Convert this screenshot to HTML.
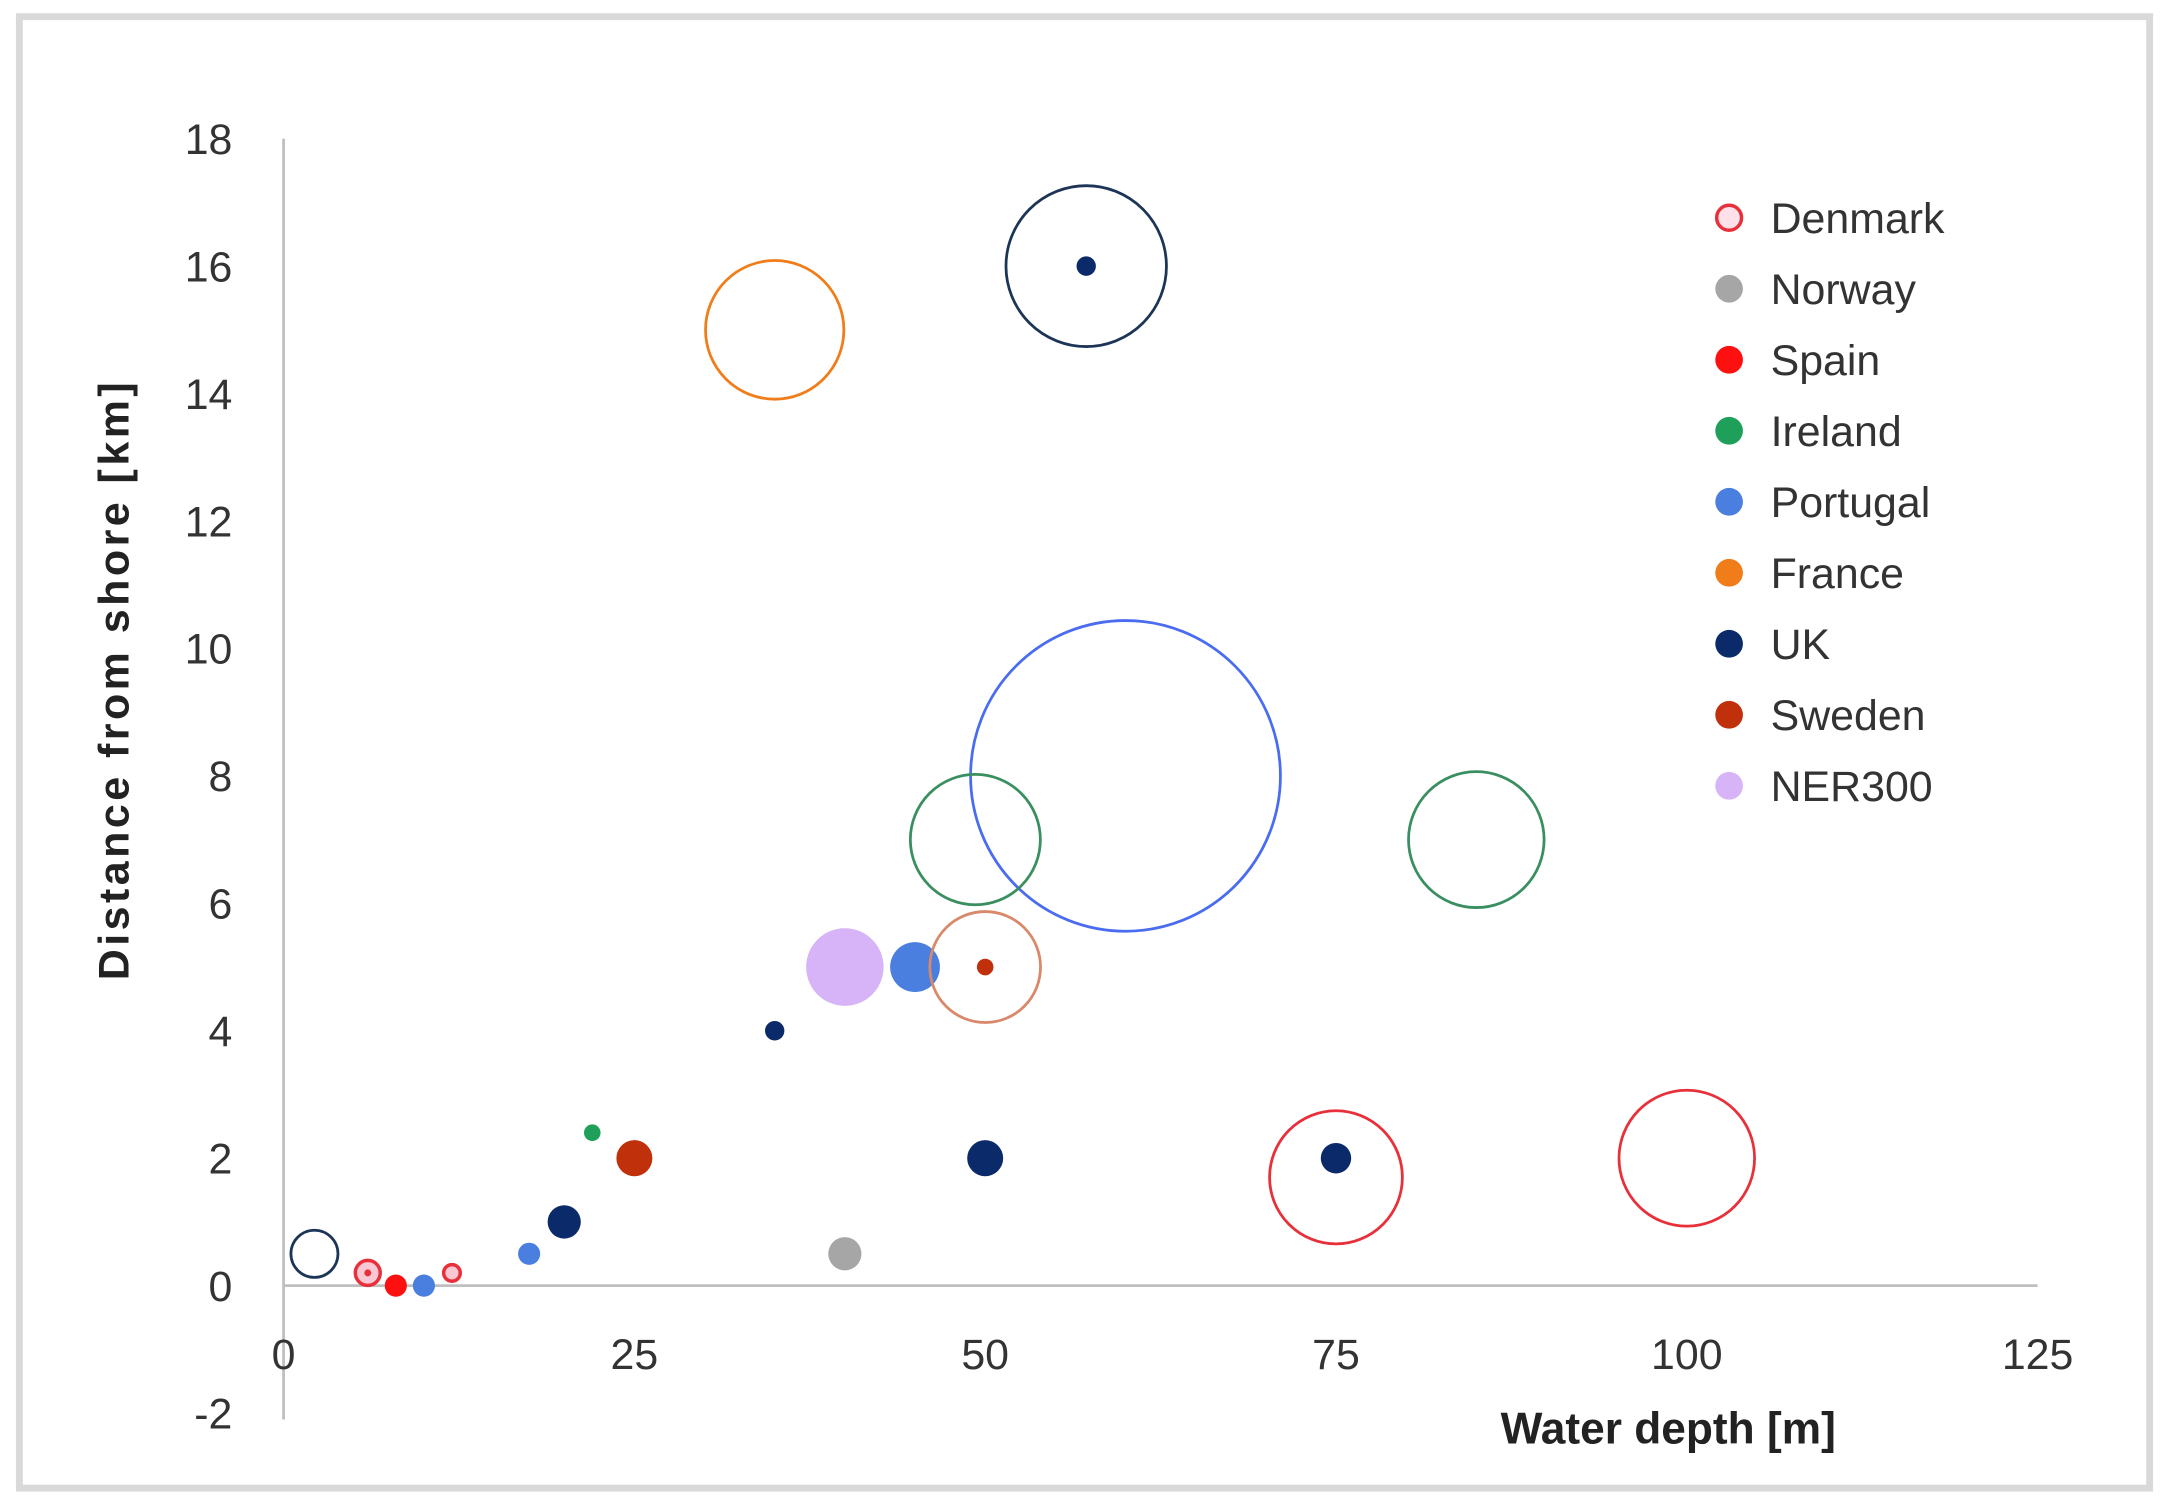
<!DOCTYPE html>
<html><head><meta charset="utf-8"><style>
html,body{margin:0;padding:0;background:#fff;}
svg{display:block;}
text{font-family:"Liberation Sans",sans-serif;}
</style></head><body>
<svg id="chart" width="2169" height="1502" viewBox="0 0 1568 1083" preserveAspectRatio="none" xmlns="http://www.w3.org/2000/svg">
<rect x="14" y="12" width="1540" height="1061" fill="#fff" stroke="#d9d9d9" stroke-width="5"/>
<g id="axes"></g>
<g id="marks"></g>
<g id="legend"></g>
</svg>
<script>
const xTicks=[0,25,50,75,100,125];
const yTicks=[-2,0,2,4,6,8,10,12,14,16,18];
const ptX=[57.2,35,60,49.3,85,40,45,50,35,22,25,50,75,100,2.2,6,8,10,12,17.5,20,40,57.2,50,75];
const ptY=[16,15,8,7,7,5,5,5,4,2.4,2,2,1.7,2,0.5,0.2,0,0,0.2,0.5,1,0.5,16,5,2];
const ptSize=[58,50,112,47,49,28,18,40,7,6,13,13,48,49,17,9,8,8,6,8,12,12,7,6,11];
const ptSeries=["UK-o","France-o","Portugal-o","Ireland-o","Ireland-o","NER300","Portugal","Sweden-o","UK","Ireland","Sweden","UK","Denmark-o","Denmark-o","UK-o","Denmark","Spain","Portugal","Denmark","Portugal","UK","Norway","UK","Sweden","UK"];
const legendNames=["Denmark","Norway","Spain","Ireland","Portugal","France","UK","Sweden","NER300"];
const legendColors=["#e8303a","#a6a6a6","#ff1010","#1fa05a","#4a7fe0","#f07d1a","#0a2a6a","#c0300a","#d6b4f7"];
const styles={
 "UK-o":{f:"none",s:"#1c3557",w:2},"France-o":{f:"none",s:"#f07d1a",w:2},"Portugal-o":{f:"none",s:"#4a6cf0",w:2},
 "Ireland-o":{f:"none",s:"#3a8f60",w:2},"NER300":{f:"#d6b4f7",s:"none",w:0},"Portugal":{f:"#4a7fe0",s:"none",w:0},
 "Sweden-o":{f:"none",s:"#d9886a",w:2},"UK":{f:"#0a2a6a",s:"none",w:0},"Ireland":{f:"#1fa05a",s:"none",w:0},
 "Sweden":{f:"#c0300a",s:"none",w:0},"Denmark-o":{f:"none",s:"#e8303a",w:2},"Denmark":{f:"#f9c8d4",s:"#e8303a",w:2.5},
 "Spain":{f:"#ff1010",s:"none",w:0},"Norway":{f:"#a6a6a6",s:"none",w:0}};
const NS="http://www.w3.org/2000/svg";
const X0=205,X1=1473,Y0=927,YTOP=100;
function xs(v){return X0+(X1-X0)*v/125;}
function ys(v){return Y0-(Y0-YTOP)*v/18;}
function rs(v){return v;}
function mk(t,a,p){const e=document.createElementNS(NS,t);for(const k in a)e.setAttribute(k,a[k]);(p||document.getElementById('chart')).appendChild(e);return e;}
const ax=document.getElementById('axes');
let l=mk('line',{x1:X0,y1:ys(18),x2:X0,y2:ys(-2.1),stroke:'#bfbfbf','stroke-width':2},ax);


l=mk('line',{x1:X0,y1:Y0,x2:X1,y2:Y0,stroke:'#bfbfbf','stroke-width':2},ax);


yTicks.forEach(v=>{const t=mk('text',{x:168,y:ys(v)+11,'text-anchor':'end','font-size':31,fill:'#333'},ax);t.textContent=v;

});
xTicks.forEach(v=>{const t=mk('text',{x:xs(v),y:987,'text-anchor':'middle','font-size':31,fill:'#333'},ax);t.textContent=v;

});
let t=mk('text',{x:1206,y:1041,'text-anchor':'middle','font-size':32,'font-weight':'bold',fill:'#222'},ax);t.textContent='Water depth [m]';


t=mk('text',{x:0,y:0,'text-anchor':'middle','font-size':31,'font-weight':'bold',fill:'#222',transform:'translate(93,490) rotate(-90)','letter-spacing':'2.5'},ax);t.textContent='Distance  from  shore  [km]';


const mg=document.getElementById('marks');
ptX.forEach((x,i)=>{const s=styles[ptSeries[i]];const c=mk('circle',{cx:xs(x),cy:ys(ptY[i]),r:rs(ptSize[i]),fill:s.f,stroke:s.s,'stroke-width':s.w},mg);


if(ptSeries[i]==='Denmark'&&ptSize[i]>8){const d=mk('circle',{cx:xs(x),cy:ys(ptY[i]),r:2.5,fill:'#e8303a'},mg);

}});
const lg=document.getElementById('legend');
legendNames.forEach((n,i)=>{const y=157+i*51.2;
const c=mk('circle',{cx:1250,cy:y,r:i===0?9:10,fill:i===0?'#fde0e8':legendColors[i],stroke:i===0?'#e8303a':'none','stroke-width':2.5},lg);


const tx=mk('text',{x:1280,y:y+11,'font-size':31,fill:'#333'},lg);tx.textContent=n;

});
</script>
</body></html>
